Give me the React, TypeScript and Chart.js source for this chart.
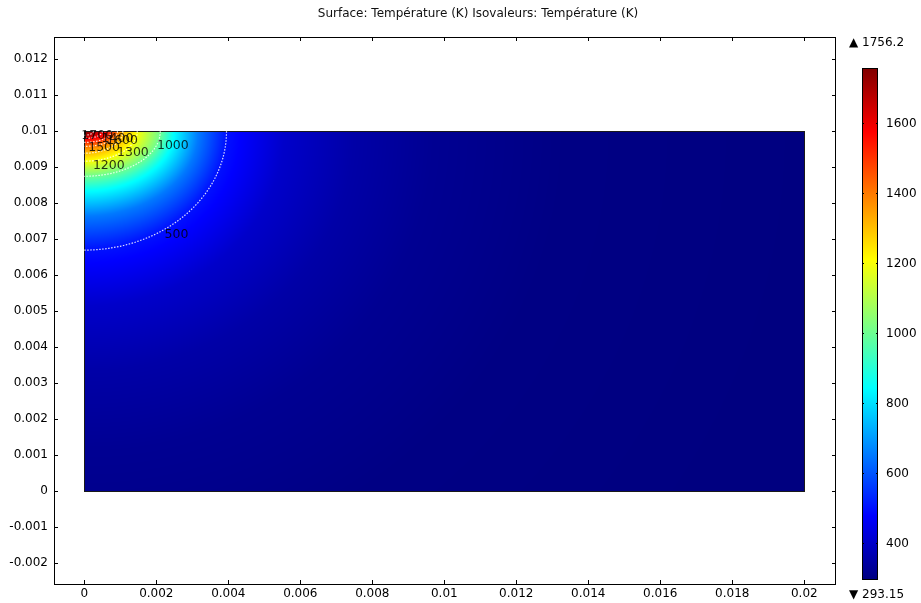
import React, { useEffect, useRef } from "react";
import { Chart, registerables } from "chart.js";

Chart.register(...registerables);

// ---- axis ticks ----
const xTicks = [0, 0.002, 0.004, 0.006, 0.008, 0.01, 0.012, 0.014, 0.016, 0.018, 0.02];
const yTicks = [-0.002, -0.001, 0, 0.001, 0.002, 0.003, 0.004, 0.005, 0.006, 0.007, 0.008, 0.009, 0.01, 0.011, 0.012];
const xMin = -0.000842;
const xMax = 0.020853;
const yMin = -0.002575;
const yMax = 0.012619;

// ---- geometry of the domain and heat source ----
const domainX = [0, 0.02];
const domainY = [0, 0.01];
const sourceX = 0;
const sourceY = 0.01;

// ---- temperature range / colour bar ----
const tMin = 293.15;
const tMax = 1756.2;
const colorbarTicks = [400, 600, 800, 1000, 1200, 1400, 1600];

// ---- isotherm reach (K, metres along surface, metres in depth) ----
const isoLevels = [1756.2, 1700, 1600, 1500, 1400, 1300, 1200, 1000, 850, 650, 500, 400, 350, 320, 300, 293.15];
const isoSurfaceReach = [0, 0.00025, 0.0005, 0.00075, 0.00092, 0.00107, 0.00147, 0.00211, 0.00247, 0.00317, 0.00395, 0.00556, 0.0075, 0.0097, 0.0133, 0.0211];
const isoDepthReach = [0, 0.00011, 0.0002, 0.00031, 0.00042, 0.00061, 0.00083, 0.00125, 0.00164, 0.00236, 0.0033, 0.00486, 0.00667, 0.0089, 0.0122, 0.02];

// ---- contour lines drawn and their labels ----
const contourLevels = [500, 1000, 1200, 1300, 1400, 1500, 1600, 1700];
const labelTexts = ["500", "1000", "1200", "1300", "1500", "1400", "1600", "1700"];
const labelX = [0.00256, 0.00246, 0.00068, 0.00135, 0.00055, 0.00092, 0.00105, 0.00036];
const labelY = [0.00713, 0.00961, 0.00903, 0.0094, 0.00954, 0.00978, 0.00975, 0.00987];

const titleText = "Surface: Température (K) Isovaleurs: Température (K)";
const FONT = "'DejaVu Sans', 'Liberation Sans', sans-serif";

function jet(t: number): [number, number, number] {
  const tt = Math.min(1, Math.max(0, t));
  const c = (v: number) => Math.round(255 * Math.min(1, Math.max(0, v)));
  return [c(1.5 - Math.abs(4 * tt - 3)), c(1.5 - Math.abs(4 * tt - 2)), c(1.5 - Math.abs(4 * tt - 1))];
}

function temperatureAt(x: number, y: number): number {
  const dx = Math.max(0, x - sourceX);
  const dd = Math.max(0, sourceY - y);
  const r = Math.hypot(dx, dd);
  if (r === 0) return isoLevels[0];
  let prevR = 0;
  let prevT = isoLevels[0];
  for (let i = 1; i < isoLevels.length; i++) {
    const rho = Math.hypot(dx / isoSurfaceReach[i], dd / isoDepthReach[i]);
    const Ri = r / rho;
    if (r < Ri) {
      const t = (r - prevR) / (Ri - prevR);
      return prevT + t * (isoLevels[i] - prevT);
    }
    prevR = Ri;
    prevT = isoLevels[i];
  }
  return isoLevels[isoLevels.length - 1];
}

function contourPoints(level: number) {
  const idx = isoLevels.indexOf(level);
  const a = isoSurfaceReach[idx];
  const b = isoDepthReach[idx];
  const pts: { x: number; y: number }[] = [];
  const n = 90;
  for (let k = 0; k <= n; k++) {
    const th = (k / n) * (Math.PI / 2);
    pts.push({ x: sourceX + a * Math.cos(th), y: sourceY - b * Math.sin(th) });
  }
  return pts;
}

function fmtTick(v: number | string): string {
  const n = Number(v);
  if (Math.abs(n) < 1e-12) return "0";
  return String(parseFloat(n.toFixed(4)));
}

const fieldPlugin = {
  id: "fieldPlugin",
  beforeDatasetsDraw(chart: any) {
    const { ctx } = chart;
    const xs = chart.scales.x;
    const ys = chart.scales.y;
    const px0 = xs.getPixelForValue(domainX[0]);
    const px1 = xs.getPixelForValue(domainX[1]);
    const py0 = ys.getPixelForValue(domainY[1]);
    const py1 = ys.getPixelForValue(domainY[0]);
    const W = Math.max(1, Math.round(px1 - px0));
    const H = Math.max(1, Math.round(py1 - py0));
    const off = document.createElement("canvas");
    off.width = W;
    off.height = H;
    const octx = off.getContext("2d")!;
    const img = octx.createImageData(W, H);
    for (let j = 0; j < H; j++) {
      const yv = ys.getValueForPixel(py0 + ((j + 0.5) * (py1 - py0)) / H);
      for (let i = 0; i < W; i++) {
        const xv = xs.getValueForPixel(px0 + ((i + 0.5) * (px1 - px0)) / W);
        const T = temperatureAt(xv, yv);
        const [r, g, b] = jet((T - tMin) / (tMax - tMin));
        const o = (j * W + i) * 4;
        img.data[o] = r;
        img.data[o + 1] = g;
        img.data[o + 2] = b;
        img.data[o + 3] = 255;
      }
    }
    octx.putImageData(img, 0, 0);
    ctx.save();
    ctx.imageSmoothingEnabled = true;
    ctx.drawImage(off, px0, py0, px1 - px0, py1 - py0);
    ctx.strokeStyle = "#1a1a1a";
    ctx.lineWidth = 1;
    ctx.strokeRect(Math.round(px0) + 0.5, Math.round(py0) + 0.5, Math.round(px1) - Math.round(px0), Math.round(py1) - Math.round(py0));
    ctx.restore();
  },
  afterDatasetsDraw(chart: any) {
    const { ctx } = chart;
    const xs = chart.scales.x;
    const ys = chart.scales.y;
    ctx.save();
    ctx.font = `12.5px ${FONT}`;
    ctx.textAlign = "center";
    ctx.textBaseline = "middle";
    ctx.fillStyle = "rgba(0,0,0,0.8)";
    for (let i = 0; i < labelTexts.length; i++) {
      ctx.fillText(labelTexts[i], xs.getPixelForValue(labelX[i]), ys.getPixelForValue(labelY[i]));
    }
    ctx.restore();
  },
  afterDraw(chart: any) {
    const { ctx, chartArea } = chart;
    const xs = chart.scales.x;
    const ys = chart.scales.y;
    const { left, right, top, bottom } = chartArea;
    ctx.save();
    // frame
    ctx.strokeStyle = "#000";
    ctx.lineWidth = 1;
    ctx.strokeRect(left + 0.5, top + 0.5, right - left, bottom - top);
    // inward ticks
    const tl = 4;
    ctx.beginPath();
    for (const v of xTicks) {
      const p = Math.round(xs.getPixelForValue(v)) + 0.5;
      ctx.moveTo(p, bottom);
      ctx.lineTo(p, bottom - tl);
      ctx.moveTo(p, top);
      ctx.lineTo(p, top + tl);
    }
    for (const v of yTicks) {
      const p = Math.round(ys.getPixelForValue(v)) + 0.5;
      ctx.moveTo(left, p);
      ctx.lineTo(left + tl, p);
      ctx.moveTo(right + 1, p);
      ctx.lineTo(right + 1 - tl, p);
    }
    ctx.stroke();

    // title
    ctx.font = `12px ${FONT}`;
    ctx.fillStyle = "#111";
    ctx.textAlign = "center";
    ctx.textBaseline = "middle";
    ctx.fillText(titleText, 478, 14);

    // colour bar
    const cbL = 862;
    const cbR = 878;
    const cbT = 68;
    const cbB = 580;
    const grad = ctx.createLinearGradient(0, cbB, 0, cbT);
    for (const s of [0, 0.125, 0.375, 0.625, 0.875, 1]) {
      const [r, g, b] = jet(s);
      grad.addColorStop(s, `rgb(${r},${g},${b})`);
    }
    ctx.fillStyle = grad;
    ctx.fillRect(cbL, cbT, cbR - cbL, cbB - cbT);
    ctx.strokeStyle = "#000";
    ctx.strokeRect(cbL + 0.5, cbT + 0.5, cbR - cbL - 1, cbB - cbT - 1);
    const cy = (v: number) => cbB - ((v - tMin) / (tMax - tMin)) * (cbB - cbT);
    ctx.fillStyle = "#000";
    ctx.textAlign = "left";
    ctx.beginPath();
    for (const v of colorbarTicks) {
      const p = Math.round(cy(v)) + 0.5;
      ctx.moveTo(cbL, p);
      ctx.lineTo(cbL + 2, p);
      ctx.moveTo(cbR, p);
      ctx.lineTo(cbR - 2, p);
      ctx.fillText(String(v), 886, p);
    }
    ctx.stroke();
    ctx.fillText("\u25B2 " + String(tMax), 849, 43);
    ctx.fillText("\u25BC " + String(tMin), 849, 595);
    ctx.restore();
  },
};

export default function App() {
  const ref = useRef<HTMLCanvasElement | null>(null);
  useEffect(() => {
    if (!ref.current) return;
    Chart.defaults.font.family = FONT;
    Chart.defaults.font.size = 12;
    const chart = new Chart(ref.current, {
      type: "scatter",
      data: {
        datasets: contourLevels.map((lv) => ({
          label: String(lv),
          data: contourPoints(lv),
          showLine: true,
          pointRadius: 0,
          borderColor: "rgba(255,255,255,0.85)",
          borderWidth: 1.2,
          borderDash: [1.5, 1.5],
          fill: false,
        })),
      },
      options: {
        responsive: false,
        animation: false,
        events: [],
        layout: { padding: { top: 37, right: 86, bottom: 0, left: 0 } },
        plugins: {
          legend: { display: false },
          tooltip: { enabled: false },
          title: { display: false },
        },
        scales: {
          x: {
            type: "linear",
            min: xMin,
            max: xMax,
            grid: { display: false, drawTicks: false },
            border: { display: false },
            ticks: { padding: 3, color: "#000", font: { size: 12 }, autoSkip: false, maxRotation: 0, callback: (v: any) => fmtTick(v) },
            afterBuildTicks: (s: any) => {
              s.ticks = xTicks.map((v) => ({ value: v }));
            },
            afterFit: (s: any) => {
              s.height = 19;
            },
          },
          y: {
            type: "linear",
            min: yMin,
            max: yMax,
            grid: { display: false, drawTicks: false },
            border: { display: false },
            ticks: { padding: 6, color: "#000", font: { size: 12 }, autoSkip: false, callback: (v: any) => fmtTick(v) },
            afterBuildTicks: (s: any) => {
              s.ticks = yTicks.map((v) => ({ value: v }));
            },
            afterFit: (s: any) => {
              s.width = 54;
            },
          },
        },
      } as any,
      plugins: [fieldPlugin],
    });
    return () => chart.destroy();
  }, []);
  return (
    <div style={{ position: "fixed", left: 0, top: 0, width: 921, height: 603, background: "#fff" }}>
      <canvas ref={ref} width={921} height={603} style={{ display: "block" }} />
    </div>
  );
}
